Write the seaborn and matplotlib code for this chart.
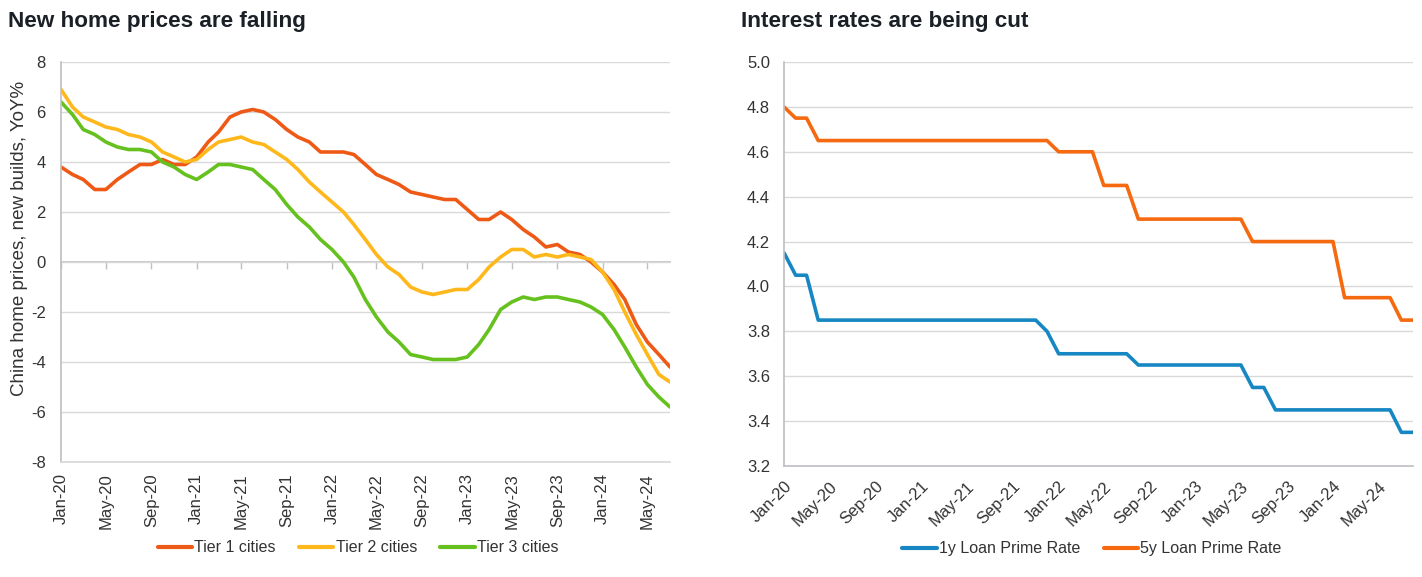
import matplotlib
matplotlib.use("Agg")
import matplotlib.pyplot as plt
import matplotlib.dates as mdates
from matplotlib.lines import Line2D
import seaborn as sns
import pandas as pd
import numpy as np

# ---------------- data ----------------
home_months = pd.date_range("2020-01-01", "2024-07-01", freq="MS")
rate_months = pd.date_range("2020-01-01", "2024-08-01", freq="MS")

tier1 = [3.8, 3.5, 3.3, 2.9, 2.9, 3.3, 3.6, 3.9, 3.9, 4.1, 3.9, 3.9,
         4.2, 4.8, 5.2, 5.8, 6.0, 6.1, 6.0, 5.7, 5.3, 5.0, 4.8, 4.4,
         4.4, 4.4, 4.3, 3.9, 3.5, 3.3, 3.1, 2.8, 2.7, 2.6, 2.5, 2.5,
         2.1, 1.7, 1.7, 2.0, 1.7, 1.3, 1.0, 0.6, 0.7, 0.4, 0.3, 0.0,
         -0.4, -0.9, -1.5, -2.5, -3.2, -3.7, -4.2]
tier2 = [6.9, 6.2, 5.8, 5.6, 5.4, 5.3, 5.1, 5.0, 4.8, 4.4, 4.2, 4.0,
         4.1, 4.5, 4.8, 4.9, 5.0, 4.8, 4.7, 4.4, 4.1, 3.7, 3.2, 2.8,
         2.4, 2.0, 1.5, 0.9, 0.3, -0.2, -0.5, -1.0, -1.2, -1.3, -1.2, -1.1,
         -1.1, -0.7, -0.2, 0.2, 0.5, 0.5, 0.2, 0.3, 0.2, 0.3, 0.2, 0.1,
         -0.4, -1.1, -2.0, -2.9, -3.7, -4.5, -4.8]
tier3 = [6.4, 5.9, 5.3, 5.1, 4.8, 4.6, 4.5, 4.5, 4.4, 4.0, 3.8, 3.5,
         3.3, 3.6, 3.9, 3.9, 3.8, 3.7, 3.3, 2.9, 2.3, 1.8, 1.4, 0.9,
         0.5, 0.0, -0.6, -1.5, -2.2, -2.8, -3.2, -3.7, -3.8, -3.9, -3.9, -3.9,
         -3.8, -3.3, -2.7, -1.9, -1.6, -1.4, -1.5, -1.4, -1.4, -1.5, -1.6, -1.8,
         -2.1, -2.7, -3.4, -4.2, -4.9, -5.4, -5.8]

lpr_1y = [4.15, 4.05, 4.05, 3.85, 3.85, 3.85, 3.85, 3.85, 3.85, 3.85, 3.85, 3.85,
          3.85, 3.85, 3.85, 3.85, 3.85, 3.85, 3.85, 3.85, 3.85, 3.85, 3.85, 3.80,
          3.70, 3.70, 3.70, 3.70, 3.70, 3.70, 3.70, 3.65, 3.65, 3.65, 3.65, 3.65,
          3.65, 3.65, 3.65, 3.65, 3.65, 3.55, 3.55, 3.45, 3.45, 3.45, 3.45, 3.45,
          3.45, 3.45, 3.45, 3.45, 3.45, 3.45, 3.35, 3.35]
lpr_5y = [4.80, 4.75, 4.75, 4.65, 4.65, 4.65, 4.65, 4.65, 4.65, 4.65, 4.65, 4.65,
          4.65, 4.65, 4.65, 4.65, 4.65, 4.65, 4.65, 4.65, 4.65, 4.65, 4.65, 4.65,
          4.60, 4.60, 4.60, 4.60, 4.45, 4.45, 4.45, 4.30, 4.30, 4.30, 4.30, 4.30,
          4.30, 4.30, 4.30, 4.30, 4.30, 4.20, 4.20, 4.20, 4.20, 4.20, 4.20, 4.20,
          4.20, 3.95, 3.95, 3.95, 3.95, 3.95, 3.85, 3.85]

home_series = ["Tier 1 cities", "Tier 2 cities", "Tier 3 cities"]
rate_series = ["1y Loan Prime Rate", "5y Loan Prime Rate"]
home_colors = ["#EE5A16", "#FFB81C", "#66C11E"]
rate_colors = ["#1787C4", "#F56A10"]
home_yticks = [-8, -6, -4, -2, 0, 2, 4, 6, 8]
rate_yticks = [3.2, 3.4, 3.6, 3.8, 4.0, 4.2, 4.4, 4.6, 4.8, 5.0]
titles = ["New home prices are falling", "Interest rates are being cut"]
home_ylabel = "China home prices, new builds, YoY%"

df_home = pd.DataFrame({
    "date": list(home_months) * 3,
    "value": tier1 + tier2 + tier3,
    "series": sum([[s] * len(home_months) for s in home_series], []),
})
df_rate = pd.DataFrame({
    "date": list(rate_months) * 2,
    "value": lpr_1y + lpr_5y,
    "series": sum([[s] * len(rate_months) for s in rate_series], []),
})

# ---------------- style ----------------
sns.set_theme(style="white")
plt.rcParams["font.family"] = ["Liberation Sans", "DejaVu Sans"]

GRID = "#D9D9D9"
AXIS = "#BFBFC4"
TXT = "#333333"
TITLE = "#1B2027"
W, H = 1422, 577
TICKFS = 12

fig = plt.figure(figsize=(W / 100, H / 100), dpi=100)
fig.patch.set_facecolor("white")
ax1 = fig.add_axes([61 / W, 1 - 462 / H, (670 - 61) / W, 400 / H])
ax2 = fig.add_axes([784 / W, 1 - 466 / H, (1413 - 784) / W, 404 / H])

lw = 2.6
sns.lineplot(data=df_home, x="date", y="value", hue="series", hue_order=home_series,
             palette=home_colors, linewidth=lw, ax=ax1, legend=False)
sns.lineplot(data=df_rate, x="date", y="value", hue="series", hue_order=rate_series,
             palette=rate_colors, linewidth=lw, ax=ax2, legend=False)

# ---------------- left axes ----------------
ax1.set_xlim(home_months[0], home_months[-1])
ax1.set_ylim(-8, 8)
ax1.set_yticks(home_yticks)
ax1.set_yticklabels([str(v) for v in home_yticks])
ax1.yaxis.grid(True, color=GRID, lw=1)
ax1.set_axisbelow(True)
xt1 = home_months[::4]
ax1.set_xticks(xt1)
ax1.set_xticklabels([d.strftime("%b-%y") for d in xt1], rotation=90)
ax1.tick_params(axis="x", length=0, pad=8, labelsize=TICKFS, labelcolor=TXT)
ax1.tick_params(axis="y", length=5, width=1, color=AXIS, direction="out",
                pad=6, labelsize=TICKFS, labelcolor=TXT)
for s in ["top", "right"]:
    ax1.spines[s].set_visible(False)
ax1.spines["bottom"].set_color(GRID)
ax1.spines["left"].set_color(AXIS)
ax1.spines["left"].set_linewidth(1.2)
ax1.set_xlabel("")
ax1.set_ylabel("")

sec = ax1.secondary_xaxis(0.5)
sec.set_alignment("bottom")
sec.set_xticks(mdates.date2num(xt1))
sec.set_xticklabels([""] * len(xt1))
sec.tick_params(axis="x", length=5, width=1, color=AXIS, direction="out")
sec.spines["bottom"].set_color(AXIS)
sec.spines["bottom"].set_linewidth(1.2)

# ---------------- right axes ----------------
ax2.set_xlim(rate_months[0], rate_months[-1])
ax2.set_ylim(3.2, 5.0)
ax2.set_yticks(rate_yticks)
ax2.set_yticklabels([f"{v:.1f}" for v in rate_yticks])
ax2.yaxis.grid(True, color=GRID, lw=1)
ax2.set_axisbelow(True)
xt2 = rate_months[:53:4]
ax2.set_xticks(xt2)
ax2.set_xticklabels([d.strftime("%b-%y") for d in xt2], rotation=45,
                    ha="right", va="top", rotation_mode="anchor")
ax2.tick_params(axis="x", length=5, width=1, color=AXIS, direction="out",
                pad=4, labelsize=TICKFS, labelcolor=TXT)
ax2.tick_params(axis="y", length=5, width=1, color=AXIS, direction="out",
                pad=5, labelsize=TICKFS, labelcolor=TXT)
for s in ["top", "right"]:
    ax2.spines[s].set_visible(False)
ax2.spines["bottom"].set_color(AXIS)
ax2.spines["left"].set_color(AXIS)
ax2.spines["bottom"].set_linewidth(1.2)
ax2.spines["left"].set_linewidth(1.2)
ax2.set_xlabel("")
ax2.set_ylabel("")

# ---------------- text ----------------
fig.text(8 / W, 1 - 27 / H, titles[0], fontsize=16.2, fontweight="bold",
         color=TITLE, ha="left", va="baseline")
fig.text(741 / W, 1 - 27 / H, titles[1], fontsize=16.2, fontweight="bold",
         color=TITLE, ha="left", va="baseline")
fig.text(19.5 / W, 1 - 238 / H, home_ylabel, rotation=90, fontsize=13.5,
         color=TXT, ha="center", va="center")

# ---------------- legends ----------------
h1 = [Line2D([], [], color=c, lw=3) for c in home_colors]
fig.legend(h1, home_series, loc="center", bbox_to_anchor=(358 / W, 1 - 548 / H),
           ncol=3, frameon=False, fontsize=11.5, handlelength=2.15,
           handletextpad=0.15, columnspacing=1.45, labelcolor=TXT)
h2 = [Line2D([], [], color=c, lw=3) for c in rate_colors]
fig.legend(h2, rate_series, loc="center", bbox_to_anchor=(1092 / W, 1 - 549 / H),
           ncol=2, frameon=False, fontsize=11.5, handlelength=2.15,
           handletextpad=0.15, columnspacing=1.45, labelcolor=TXT)

fig.savefig("out.png", dpi=100, facecolor="white")
